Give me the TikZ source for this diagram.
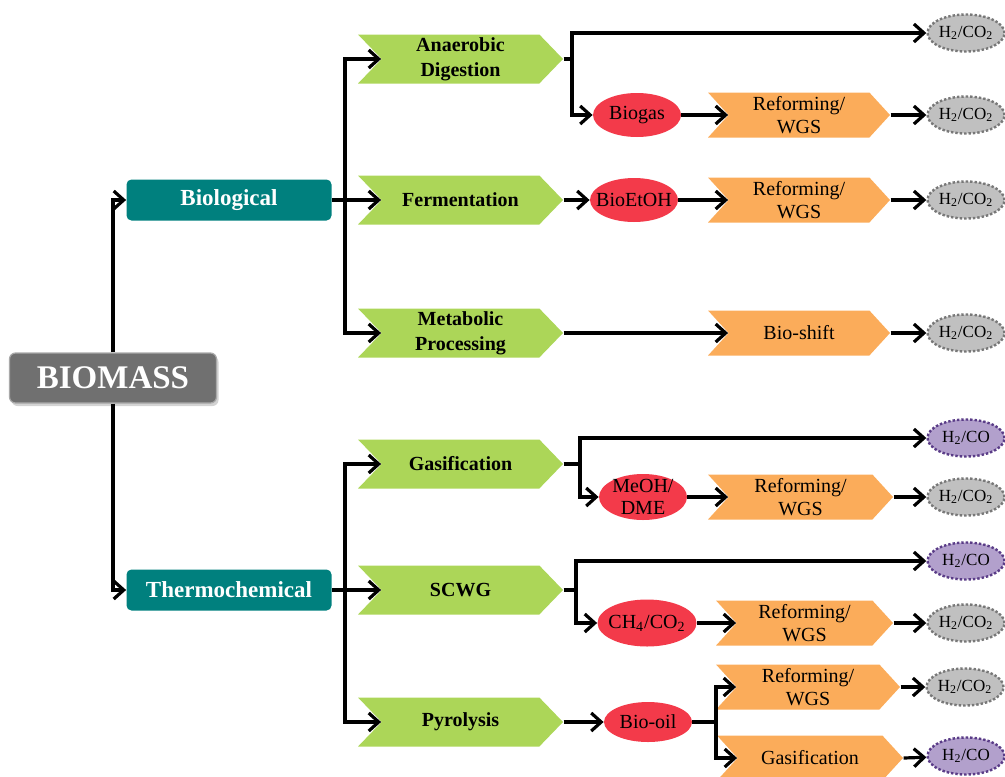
\documentclass[tikz,border=0pt]{standalone}
\usepackage{fontspec}
\setmainfont{Liberation Serif}
\usetikzlibrary{shapes.symbols,shapes.geometric,shadows,arrows.meta}
\definecolor{rootgray}{RGB}{112,112,112}
\definecolor{classteal}{RGB}{0,128,126}
\definecolor{procgreen}{RGB}{172,214,88}
\definecolor{routeorange}{RGB}{251,172,90}
\definecolor{productred}{RGB}{243,58,74}
\definecolor{gasgray}{RGB}{192,192,192}
\definecolor{gasgrayline}{RGB}{120,120,120}
\definecolor{gaspurple}{RGB}{178,160,204}
\definecolor{gaspurpleline}{RGB}{90,60,135}

\begin{document}
\begin{tikzpicture}[x=0.5pt, y=-0.5pt,
        rootnode/.style={rectangle, rounded corners=3pt, fill=rootgray, draw=rootgray!60!white, line width=0.6pt, text=white, font=\fontsize{16.5}{18}\selectfont\bfseries, minimum width=103.5pt, minimum height=25pt, drop shadow={shadow xshift=1pt, shadow yshift=-1.5pt, opacity=0.35}},
        classnode/.style={rectangle, rounded corners=2.5pt, fill=classteal, text=white, font=\fontsize{11.5}{13}\selectfont\bfseries, minimum width=102.5pt, minimum height=20.5pt},
        processnode/.style={signal, signal from=west, signal to=east, signal pointer angle=92, fill=procgreen, font=\fontsize{10}{12.5}\selectfont\bfseries, align=center, minimum width=102.5pt, minimum height=24.5pt, inner sep=1pt},
        routenode/.style={signal, signal from=west, signal to=east, signal pointer angle=95, fill=routeorange, font=\fontsize{10}{11.5}\selectfont, align=center, minimum width=91pt, minimum height=22.5pt, inner sep=1pt},
        productnode/.style={ellipse, fill=productred, inner sep=-4pt, minimum width=44pt, minimum height=22pt, font=\fontsize{10}{11}\selectfont, align=center},
        h2co2node/.style={ellipse, fill=gasgray, draw=gasgrayline, densely dotted, line width=1.2pt, minimum width=38.5pt, minimum height=18.5pt, inner sep=-2pt, font=\fontsize{8.5}{9}\selectfont},
        h2conode/.style={h2co2node, fill=gaspurple, draw=gaspurpleline},
        flow/.style={-{Straight Barb[length=5pt,width=9pt]}, line width=1.6pt},
        link/.style={line width=1.6pt},
]
        \useasboundingbox (0,0) rectangle (1005,776);
        \clip (0,0) rectangle (1005,776);

        \node[rootnode] (biomass) at (113,378) {BIOMASS};
        \node[classnode] (bio) at (229,200) {Biological};
        \node[classnode] (thermo) at (229,590) {Thermochemical};

        \node[processnode] (anaer) at (460.5,59) {Anaerobic\\Digestion};
        \node[processnode] (ferm) at (460.5,200) {Fermentation};
        \node[processnode] (metab) at (460.5,333) {Metabolic\\Processing};
        \node[processnode] (gasif) at (460.5,464) {Gasification};
        \node[processnode] (scwg) at (460.5,590) {SCWG};
        \node[processnode] (pyro) at (460.5,722) {Pyrolysis};

        \node[productnode] (biogas) at (637,115) {Biogas};
        \node[productnode] (bioetoh) at (634,200) {BioEtOH};
        \node[productnode, minimum height=23pt] (meoh) at (643,497) {MeOH/\\DME};
        \node[productnode, minimum width=49.5pt, minimum height=23.5pt] (chfour) at (647,623) {CH\textsubscript{4}/CO\textsubscript{2}};
        \node[productnode, minimum height=20pt] (biooil) at (648,722) {Bio-oil};

        \node[routenode] (reformbiogas) at (799,115) {Reforming/\\WGS};
        \node[routenode] (reformetoh) at (799,200) {Reforming/\\WGS};
        \node[routenode] (bioshift) at (799,333) {Bio-shift};
        \node[routenode, minimum width=92.5pt] (reformmeoh) at (800.5,497) {Reforming/\\WGS};
        \node[routenode, minimum width=88.5pt] (reformchfour) at (804.5,623) {Reforming/\\WGS};
        \node[routenode, minimum width=92pt] (reformoil) at (808,687) {Reforming/\\WGS};
        \node[routenode, minimum width=93pt] (gasifoil) at (810,758) {Gasification};

        \node[h2co2node] (gasanaer) at (966,33) {H\textsubscript{2}/CO\textsubscript{2}};
        \node[h2co2node] (gasbiogas) at (966,115) {H\textsubscript{2}/CO\textsubscript{2}};
        \node[h2co2node] (gasetoh) at (966,200) {H\textsubscript{2}/CO\textsubscript{2}};
        \node[h2co2node] (gasshift) at (966,333) {H\textsubscript{2}/CO\textsubscript{2}};
        \node[h2conode] (syngasgasif) at (966,438) {H\textsubscript{2}/CO};
        \node[h2co2node] (gasmeoh) at (966,497) {H\textsubscript{2}/CO\textsubscript{2}};
        \node[h2conode] (syngasscwg) at (966,561) {H\textsubscript{2}/CO};
        \node[h2co2node] (gaschfour) at (966,623) {H\textsubscript{2}/CO\textsubscript{2}};
        \node[h2co2node] (gasoil) at (965,687) {H\textsubscript{2}/CO\textsubscript{2}};
        \node[h2conode] (syngasoil) at (966,756) {H\textsubscript{2}/CO};

        \coordinate (biosplit) at (345,200);
        \coordinate (thermosplit) at (345,590);
        \coordinate (anaersplit) at (572,59);
        \coordinate (gasifsplit) at (580,464);
        \coordinate (scwgsplit) at (576,590);
        \coordinate (oilsplit) at (716,722);

        \draw[flow] (biomass) |- (bio);
        \draw[flow] (biomass) |- (thermo);

        \draw[link] (bio) -- (biosplit);
        \draw[flow] (biosplit) |- (anaer.west);
        \draw[flow] (biosplit) -- (ferm.west);
        \draw[flow] (biosplit) |- (metab.west);
        \draw[link] (thermo) -- (thermosplit);
        \draw[flow] (thermosplit) |- (gasif.west);
        \draw[flow] (thermosplit) -- (scwg.west);
        \draw[flow] (thermosplit) |- (pyro.west);

        \draw[link] (anaer.east) -- (anaersplit);
        \draw[flow] (anaersplit) |- (gasanaer);
        \draw[flow] (anaersplit) |- (biogas);
        \draw[flow] (biogas) -- (reformbiogas.west);
        \draw[flow] (reformbiogas.east) -- (gasbiogas);

        \draw[flow] (ferm.east) -- (bioetoh);
        \draw[flow] (bioetoh) -- (reformetoh.west);
        \draw[flow] (reformetoh.east) -- (gasetoh);

        \draw[flow] (metab.east) -- (bioshift.west);
        \draw[flow] (bioshift.east) -- (gasshift);

        \draw[link] (gasif.east) -- (gasifsplit);
        \draw[flow] (gasifsplit) |- (syngasgasif);
        \draw[flow] (gasifsplit) |- (meoh);
        \draw[flow] (meoh) -- (reformmeoh.west);
        \draw[flow] (reformmeoh.east) -- (gasmeoh);

        \draw[link] (scwg.east) -- (scwgsplit);
        \draw[flow] (scwgsplit) |- (syngasscwg);
        \draw[flow] (scwgsplit) |- (chfour);
        \draw[flow] (chfour) -- (reformchfour.west);
        \draw[flow] (reformchfour.east) -- (gaschfour);

        \draw[flow] (pyro.east) -- (biooil);
        \draw[link] (biooil) -- (oilsplit);
        \draw[flow] (oilsplit) |- (reformoil.west);
        \draw[flow] (oilsplit) |- (gasifoil.west);
        \draw[flow] (reformoil.east) -- (gasoil);
        \draw[flow] (gasifoil.east) -- (syngasoil);
\end{tikzpicture}
\end{document}
